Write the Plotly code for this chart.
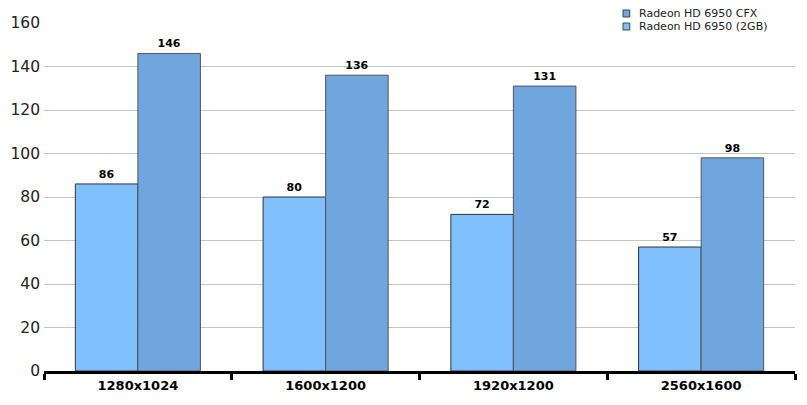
import plotly.graph_objects as go

categories = ["1280x1024", "1600x1200", "1920x1200", "2560x1600"]
series_2gb = [86, 80, 72, 57]
series_cfx = [146, 136, 131, 98]
name_2gb = "Radeon HD 6950 (2GB)"
name_cfx = "Radeon HD 6950 CFX"
y_ticks = [0, 20, 40, 60, 80, 100, 120, 140, 160]

color_2gb = "#80c0ff"
color_cfx = "#6fa6dd"

fig = go.Figure()
fig.add_trace(go.Bar(
    x=categories, y=series_2gb, name=name_2gb,
    marker=dict(color=color_2gb, line=dict(color="#333333", width=1)),
    text=series_2gb, textposition="outside", cliponaxis=False,
    textfont=dict(family="DejaVu Sans", size=11, color="black", weight="bold"),
))
fig.add_trace(go.Bar(
    x=categories, y=series_cfx, name=name_cfx,
    marker=dict(color=color_cfx, line=dict(color="#555555", width=1)),
    text=series_cfx, textposition="outside", cliponaxis=False,
    textfont=dict(family="DejaVu Sans", size=11, color="black", weight="bold"),
))

# manual legend (compact, like the original)
legend_items = [(name_cfx, color_cfx, 1.0172, 1.0374, 1.0273),
                (name_2gb, color_2gb, 0.9799, 1.0, 0.9899)]
for name, col, y0, y1, yt in legend_items:
    fig.add_shape(type="rect", xref="paper", yref="paper",
                  x0=0.771, x1=0.780, y0=y0, y1=y1,
                  fillcolor=col, line=dict(color="#444444", width=1))
    fig.add_annotation(xref="paper", yref="paper", x=0.7896, y=yt,
                       text=name, showarrow=False, xanchor="left", yanchor="middle",
                       font=dict(family="DejaVu Sans", size=11, color="#222222"))

fig.update_layout(
    width=799, height=397,
    margin=dict(l=36, r=12, t=15, b=34, autoexpand=False),
    paper_bgcolor="white", plot_bgcolor="white",
    barmode="group", bargap=0.334, bargroupgap=0,
    font=dict(family="DejaVu Sans", color="black"),
    showlegend=False,
    yaxis=dict(range=[0, 160], tickvals=y_ticks, showgrid=True,
               gridcolor="#c4c4c4", gridwidth=1, zeroline=False,
               showline=False, ticks="", tickfont=dict(size=15.5, color="#222222"),
               ticklabelstandoff=3, automargin=False),
    xaxis=dict(showline=True, linecolor="black", linewidth=3,
               ticks="outside", tickson="boundaries", ticklen=6, tickwidth=3,
               tickcolor="black", automargin=False,
               tickfont=dict(size=13, color="black", weight="bold")),
)

fig.write_html("out.html")
